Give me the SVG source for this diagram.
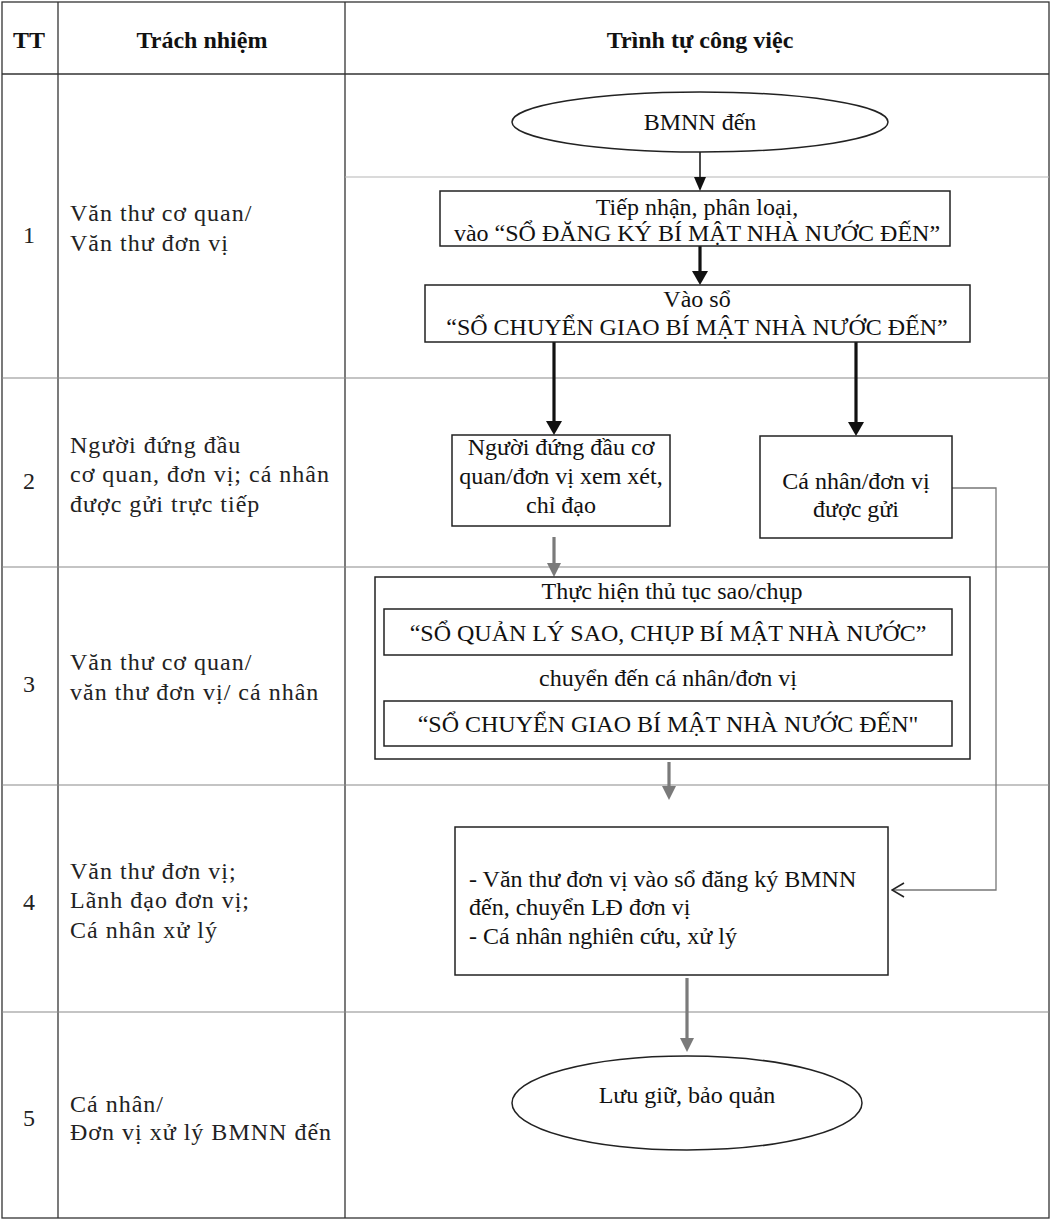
<svg xmlns="http://www.w3.org/2000/svg" width="1053" height="1221" viewBox="0 0 1053 1221">
<style>
  .grid{stroke:#333;stroke-width:1.3;fill:none}
  .row{stroke:#8a8a8a;stroke-width:1.2}
  .faint{stroke:#b5b5b5;stroke-width:1}
  .box{fill:#fff;stroke:#222;stroke-width:1.5}
  .hdr{font-family:"Liberation Serif",serif;font-size:24px;font-weight:bold;fill:#111;text-anchor:middle}
  .lt{font-family:"Liberation Serif",serif;font-size:24px;letter-spacing:1px;fill:#222}
  .num{font-family:"Liberation Serif",serif;font-size:24px;fill:#222;text-anchor:middle}
  .ft{font-family:"Liberation Serif",serif;font-size:24px;fill:#111;text-anchor:middle}
  .fl{font-family:"Liberation Serif",serif;font-size:24px;fill:#111}
  .thin{stroke:#111;stroke-width:1.5;fill:none}
  .thick{stroke:#111;stroke-width:3.2;fill:none}
  .gray{stroke:#7a7a7a;stroke-width:3.2;fill:none}
  .link{stroke:#777;stroke-width:1.3;fill:none}
</style>
<defs>
  <marker id="hb" markerUnits="userSpaceOnUse" markerWidth="14" markerHeight="16" viewBox="0 0 14 16" refX="0" refY="8" orient="auto">
    <path d="M0,0 L14,8 L0,16 z" fill="#111"/>
  </marker>
  <marker id="hs" markerUnits="userSpaceOnUse" markerWidth="14" markerHeight="12" viewBox="0 0 14 12" refX="0" refY="6" orient="auto">
    <path d="M0,0 L14,6 L0,12 z" fill="#111"/>
  </marker>
  <marker id="hg" markerUnits="userSpaceOnUse" markerWidth="14" markerHeight="14" viewBox="0 0 14 14" refX="0" refY="7" orient="auto">
    <path d="M0,0 L14,7 L0,14 z" fill="#7a7a7a"/>
  </marker>
  <marker id="ho" markerUnits="userSpaceOnUse" markerWidth="14" markerHeight="16" viewBox="0 0 14 16" refX="13" refY="8" orient="auto">
    <path d="M1,1 L13,8 L1,15" fill="none" stroke="#222" stroke-width="1.6"/>
  </marker>
</defs>

<g id="table">
  <rect class="grid" x="2" y="2" width="1047" height="1216"/>
  <line class="grid" x1="58" y1="2" x2="58" y2="1218"/>
  <line class="grid" x1="345" y1="2" x2="345" y2="1218"/>
  <line class="grid" x1="2" y1="74" x2="1049" y2="74"/>
  <line class="row" x1="2" y1="378" x2="1049" y2="378"/>
  <line class="row" x1="2" y1="567" x2="1049" y2="567"/>
  <line class="row" x1="2" y1="785" x2="1049" y2="785"/>
  <line class="row" x1="2" y1="1012" x2="1049" y2="1012"/>
  <line class="faint" x1="345" y1="177" x2="1049" y2="177"/>
  <text class="hdr" x="29" y="48">TT</text>
  <text class="hdr" x="202" y="48">Trách nhiệm</text>
  <text class="hdr" x="700" y="48">Trình tự công việc</text>
</g>

<g id="lane-1">
  <text class="num" x="29" y="243">1</text>
  <text class="lt" x="70" y="221">Văn thư cơ quan/</text>
  <text class="lt" x="70" y="251">Văn thư đơn vị</text>
</g>
<g id="lane-2">
  <text class="num" x="29" y="489">2</text>
  <text class="lt" x="70" y="453">Người đứng đầu</text>
  <text class="lt" x="70" y="482">cơ quan, đơn vị; cá nhân</text>
  <text class="lt" x="70" y="512">được gửi trực tiếp</text>
</g>
<g id="lane-3">
  <text class="num" x="29" y="692">3</text>
  <text class="lt" x="70" y="670">Văn thư cơ quan/</text>
  <text class="lt" x="70" y="700">văn thư đơn vị/ cá nhân</text>
</g>
<g id="lane-4">
  <text class="num" x="29" y="910">4</text>
  <text class="lt" x="70" y="879">Văn thư đơn vị;</text>
  <text class="lt" x="70" y="908">Lãnh đạo đơn vị;</text>
  <text class="lt" x="70" y="938">Cá nhân xử lý</text>
</g>
<g id="lane-5">
  <text class="num" x="29" y="1126">5</text>
  <text class="lt" x="70" y="1112">Cá nhân/</text>
  <text class="lt" x="70" y="1140">Đơn vị xử lý BMNN đến</text>
</g>

<g id="connectors">
  <line class="thin" x1="700" y1="152" x2="700" y2="177" marker-end="url(#hs)"/>
  <line class="thick" x1="700" y1="246" x2="700" y2="271" marker-end="url(#hb)"/>
  <line class="thick" x1="554" y1="342" x2="554" y2="421" marker-end="url(#hb)"/>
  <line class="thick" x1="856" y1="342" x2="856" y2="422" marker-end="url(#hb)"/>
  <line class="gray" x1="554" y1="537" x2="554" y2="563" marker-end="url(#hg)"/>
  <line class="gray" x1="669" y1="762" x2="669" y2="786" marker-end="url(#hg)"/>
  <line class="gray" x1="687" y1="978" x2="687" y2="1038" marker-end="url(#hg)"/>
  <polyline class="link" points="952,488 996,488 996,890 892,890" marker-end="url(#ho)"/>
</g>

<g id="n-start">
  <ellipse class="box" cx="700" cy="122" rx="188" ry="30"/>
  <text class="ft" x="700" y="130">BMNN đến</text>
</g>
<g id="n-tiepnhan">
  <rect class="box" x="440" y="191" width="510" height="55"/>
  <text class="ft" x="697" y="215">Tiếp nhận, phân loại,</text>
  <text class="ft" x="697" y="241">vào “SỔ ĐĂNG KÝ BÍ MẬT NHÀ NƯỚC ĐẾN”</text>
</g>
<g id="n-vaoso">
  <rect class="box" x="425" y="285" width="545" height="57"/>
  <text class="ft" x="697" y="307">Vào sổ</text>
  <text class="ft" x="697" y="335">“SỔ CHUYỂN GIAO BÍ MẬT NHÀ NƯỚC ĐẾN”</text>
</g>
<g id="n-nguoidungdau">
  <rect class="box" x="452" y="435" width="218" height="91"/>
  <text class="ft" x="561" y="455">Người đứng đầu cơ</text>
  <text class="ft" x="561" y="484">quan/đơn vị xem xét,</text>
  <text class="ft" x="561" y="513">chỉ đạo</text>
</g>
<g id="n-canhan">
  <rect class="box" x="760" y="436" width="192" height="102"/>
  <text class="ft" x="856" y="489">Cá nhân/đơn vị</text>
  <text class="ft" x="856" y="517">được gửi</text>
</g>
<g id="n-saochup">
  <rect class="box" x="375" y="577" width="595" height="182"/>
  <text class="ft" x="672" y="599">Thực hiện thủ tục sao/chụp</text>
  <rect class="box" x="384" y="609" width="568" height="46"/>
  <text class="ft" x="668" y="641">“SỔ QUẢN LÝ SAO, CHỤP BÍ MẬT NHÀ NƯỚC”</text>
  <text class="ft" x="668" y="686">chuyển đến cá nhân/đơn vị</text>
  <rect class="box" x="384" y="701" width="568" height="45"/>
  <text class="ft" x="668" y="732">“SỔ CHUYỂN GIAO BÍ MẬT NHÀ NƯỚC ĐẾN"</text>
</g>
<g id="n-xuly">
  <rect class="box" x="455" y="827" width="433" height="148"/>
  <text class="fl" x="469" y="887">- Văn thư đơn vị vào sổ đăng ký BMNN</text>
  <text class="fl" x="469" y="915">đến, chuyển LĐ đơn vị</text>
  <text class="fl" x="469" y="944">- Cá nhân nghiên cứu, xử lý</text>
</g>
<g id="n-end">
  <ellipse class="box" cx="687" cy="1103" rx="175" ry="47"/>
  <text class="ft" x="687" y="1103">Lưu giữ, bảo quản</text>
</g>
</svg>
